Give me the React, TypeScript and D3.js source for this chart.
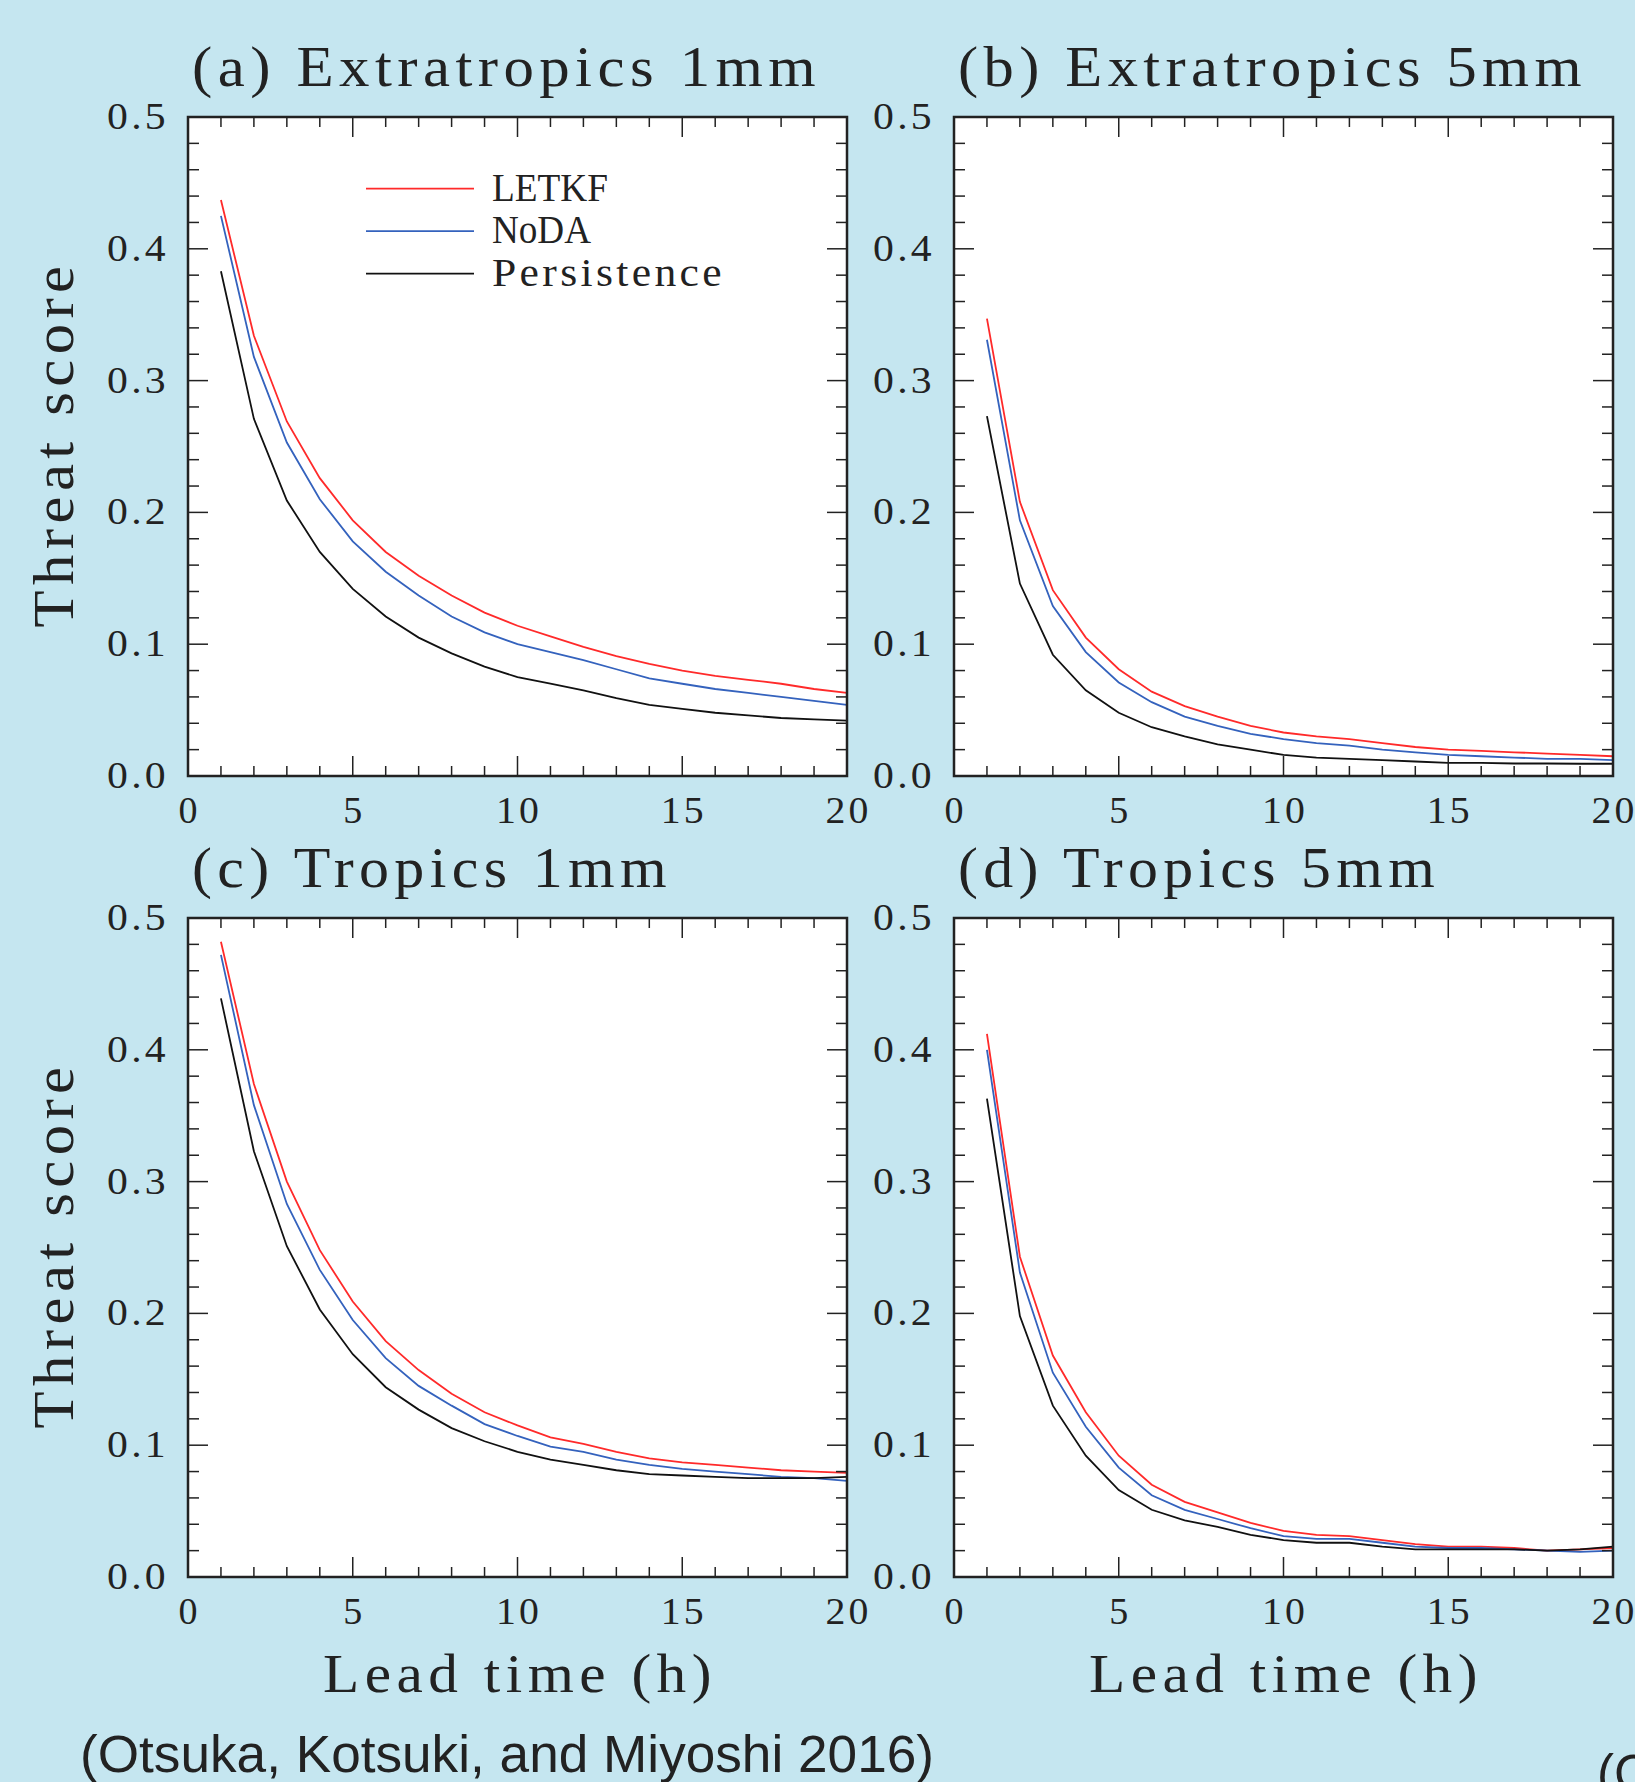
import * as d3 from "d3";

// lead time (h)
const leadTime = [1, 2, 3, 4, 5, 6, 7, 8, 9, 10, 11, 12, 13, 14, 15, 16, 17, 18, 19, 20];

// (a) Extratropics 1mm
const letkfA = [0.437, 0.334, 0.269, 0.226, 0.194, 0.170, 0.152, 0.137, 0.124, 0.114, 0.106, 0.098, 0.091, 0.085, 0.080, 0.076, 0.073, 0.070, 0.066, 0.063];
const nodaA = [0.425, 0.318, 0.253, 0.210, 0.178, 0.155, 0.137, 0.121, 0.109, 0.100, 0.094, 0.088, 0.081, 0.074, 0.070, 0.066, 0.063, 0.060, 0.057, 0.054];
const persA = [0.383, 0.271, 0.209, 0.170, 0.142, 0.121, 0.105, 0.093, 0.083, 0.075, 0.070, 0.065, 0.059, 0.054, 0.051, 0.048, 0.046, 0.044, 0.043, 0.042];

// (b) Extratropics 5mm
const letkfB = [0.347, 0.208, 0.141, 0.105, 0.081, 0.064, 0.053, 0.045, 0.038, 0.033, 0.030, 0.028, 0.025, 0.022, 0.020, 0.019, 0.018, 0.017, 0.016, 0.015];
const nodaB = [0.331, 0.194, 0.129, 0.094, 0.071, 0.056, 0.045, 0.038, 0.032, 0.028, 0.025, 0.023, 0.020, 0.018, 0.016, 0.015, 0.014, 0.013, 0.013, 0.012];
const persB = [0.273, 0.146, 0.092, 0.065, 0.048, 0.037, 0.030, 0.024, 0.020, 0.016, 0.014, 0.013, 0.012, 0.011, 0.010, 0.010, 0.0095, 0.0095, 0.0093, 0.0093];

// (c) Tropics 1mm
const letkfC = [0.482, 0.374, 0.300, 0.248, 0.209, 0.179, 0.157, 0.139, 0.125, 0.115, 0.106, 0.101, 0.095, 0.090, 0.087, 0.085, 0.083, 0.081, 0.080, 0.079];
const nodaC = [0.472, 0.358, 0.283, 0.233, 0.195, 0.166, 0.145, 0.130, 0.116, 0.107, 0.099, 0.095, 0.089, 0.085, 0.082, 0.080, 0.078, 0.076, 0.075, 0.073];
const persC = [0.439, 0.323, 0.251, 0.203, 0.169, 0.144, 0.127, 0.113, 0.103, 0.095, 0.089, 0.085, 0.081, 0.078, 0.077, 0.076, 0.075, 0.075, 0.075, 0.076];

// (d) Tropics 5mm
const letkfD = [0.412, 0.243, 0.168, 0.125, 0.092, 0.070, 0.057, 0.049, 0.041, 0.035, 0.032, 0.031, 0.028, 0.025, 0.023, 0.023, 0.022, 0.020, 0.021, 0.022];
const nodaD = [0.400, 0.231, 0.155, 0.114, 0.083, 0.062, 0.051, 0.044, 0.037, 0.031, 0.029, 0.029, 0.026, 0.023, 0.022, 0.022, 0.021, 0.020, 0.019, 0.020];
const persD = [0.363, 0.198, 0.130, 0.092, 0.066, 0.051, 0.043, 0.038, 0.032, 0.028, 0.026, 0.026, 0.023, 0.021, 0.021, 0.021, 0.021, 0.020, 0.021, 0.023];

const seriesNames = ["LETKF", "NoDA", "Persistence"];
const seriesColors = ["#ff2a2a", "#3462bd", "#111111"];

const xTicks = [0, 5, 10, 15, 20];
const yTicks = [0, 0.1, 0.2, 0.3, 0.4, 0.5];

const panelTitles = ["(a) Extratropics 1mm", "(b) Extratropics 5mm", "(c) Tropics 1mm", "(d) Tropics 5mm"];
const titleWidths = [629, 629, 480, 482];
const panelData = [
  [letkfA, nodaA, persA],
  [letkfB, nodaB, persB],
  [letkfC, nodaC, persC],
  [letkfD, nodaD, persD],
];

const W = 1635;
const H = 1782;
const size = 659;
const lefts = [188, 954];
const tops = [117, 918];
const serif = "'Liberation Serif', 'DejaVu Serif', serif";
const sans = "'Liberation Sans', Arial, sans-serif";
const axisColor = "#222";
const textColor = "#222";

const Panel = ({ idx }: { idx: number }) => {
  const left = lefts[idx % 2];
  const top = tops[Math.floor(idx / 2)];
  const x = d3.scaleLinear().domain([0, 20]).range([0, size]);
  const y = d3.scaleLinear().domain([0, 0.5]).range([size, 0]);
  const line = d3
    .line<number>()
    .x((d, i) => x(leadTime[i]))
    .y((d) => y(d));

  const minorX = d3.range(0, 21, 1);
  const minorY = d3.range(0, 0.5001, 0.02);

  return (
    <g transform={`translate(${left},${top})`}>
      <rect x={0} y={0} width={size} height={size} fill="#fff" />
      {panelData[idx].map((s, k) => (
        <path key={k} d={line(s) || ""} fill="none" stroke={seriesColors[k]} strokeWidth={1.8} />
      ))}
      {/* x ticks, bottom and top */}
      {minorX.map((v) => {
        const len = v % 5 === 0 ? 20 : 10;
        return (
          <g key={"x" + v} stroke={axisColor} strokeWidth={1.5}>
            <line x1={x(v)} x2={x(v)} y1={size} y2={size - len} />
            <line x1={x(v)} x2={x(v)} y1={0} y2={len} />
          </g>
        );
      })}
      {minorY.map((v, i) => {
        const len = i % 5 === 0 ? 20 : 11;
        return (
          <g key={"y" + i} stroke={axisColor} strokeWidth={1.5}>
            <line x1={0} x2={len} y1={y(v)} y2={y(v)} />
            <line x1={size} x2={size - len} y1={y(v)} y2={y(v)} />
          </g>
        );
      })}
      <rect x={0} y={0} width={size} height={size} fill="none" stroke={axisColor} strokeWidth={2.5} />
      {yTicks.map((v) => (
        <text
          key={"yl" + v}
          x={-19}
          y={y(v) + 12}
          textAnchor="end"
          fontFamily={serif}
          fontSize={38}
          letterSpacing={3}
          textLength={62}
          lengthAdjust="spacingAndGlyphs"
          fill={textColor}
        >
          {v.toFixed(1)}
        </text>
      ))}
      {xTicks.map((v) => {
        const s = String(v);
        return (
          <text
            key={"xl" + v}
            x={x(v) + (s.length > 1 ? 1.5 : 0)}
            y={size + 47}
            textAnchor="middle"
            fontFamily={serif}
            fontSize={38}
            letterSpacing={s.length > 1 ? 3 : 0}
            textLength={s.length > 1 ? 46 : undefined}
            lengthAdjust="spacingAndGlyphs"
            fill={textColor}
          >
            {s}
          </text>
        );
      })}
      <text
        x={4}
        y={-31}
        fontFamily={serif}
        fontSize={56}
        letterSpacing={5}
        textLength={titleWidths[idx]}
        lengthAdjust="spacingAndGlyphs"
        fill={textColor}
      >
        {panelTitles[idx]}
      </text>
      {idx % 2 === 0 && (
        <text
          transform={`translate(${73 - left},${size / 2 - 2.5}) rotate(-90)`}
          textAnchor="middle"
          fontFamily={serif}
          fontSize={56}
          letterSpacing={5}
          textLength={367}
          lengthAdjust="spacingAndGlyphs"
          fill={textColor}
        >
          Threat score
        </text>
      )}
      {idx >= 2 && (
        <text
          x={size / 2 + 2.5}
          y={size + 115}
          textAnchor="middle"
          fontFamily={serif}
          fontSize={54}
          letterSpacing={5}
          textLength={394}
          lengthAdjust="spacingAndGlyphs"
          fill={textColor}
        >
          Lead time (h)
        </text>
      )}
      {idx === 0 &&
        seriesNames.map((name, k) => {
          const ly = 71.6 + k * 42.5;
          const widths = [116, 99, 233];
          return (
            <g key={name}>
              <line x1={178} x2={286} y1={ly} y2={ly} stroke={seriesColors[k]} strokeWidth={1.8} />
              <text
                x={304}
                y={ly + 12}
                fontFamily={serif}
                fontSize={39}
                letterSpacing={k === 2 ? 3 : 0}
                textLength={widths[k]}
                lengthAdjust="spacingAndGlyphs"
                fill={textColor}
              >
                {name}
              </text>
            </g>
          );
        })}
    </g>
  );
};

export default function App() {
  return (
    <svg
      width={W}
      height={H}
      style={{ position: "absolute", left: 0, top: 0, display: "block" }}
    >
      <rect x={0} y={0} width={W} height={H} fill="#c5e6f0" />
      {[0, 1, 2, 3].map((i) => (
        <Panel key={i} idx={i} />
      ))}
      <text x={80} y={1772} fontFamily={sans} fontSize={51} textLength={854} lengthAdjust="spacingAndGlyphs" fill={textColor}>
        (Otsuka, Kotsuki, and Miyoshi 2016)
      </text>
      <text x={1597} y={1791} fontFamily={sans} fontSize={51} fill={textColor}>
        (C
      </text>
    </svg>
  );
}
